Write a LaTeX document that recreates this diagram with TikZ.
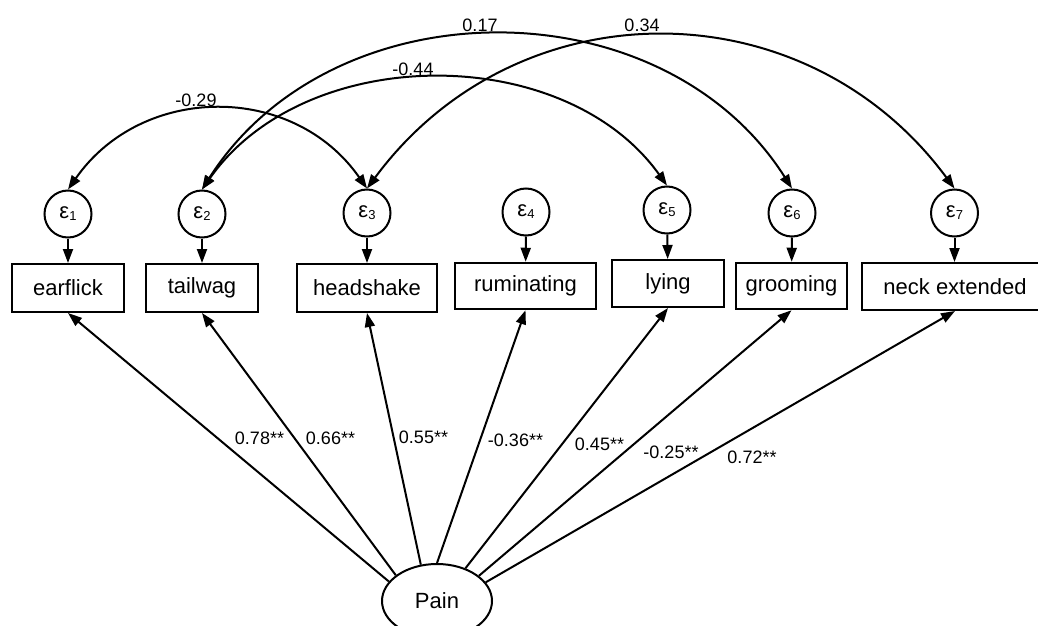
\documentclass[tikz,border=0pt]{standalone}
\usepackage{fontspec}
\setmainfont{Liberation Sans}
\usetikzlibrary{arrows.meta,shapes.geometric}
\newcommand\errlab[1]{ε\raisebox{-2pt}{\fontsize{13}{13}\selectfont #1}}
\begin{document}
\begin{tikzpicture}[x=1pt,y=-1pt, line width=2pt,
  >={Triangle[length=14pt,width=10pt]},
  obs/.style={draw, rectangle, inner sep=0pt, font=\fontsize{22}{22}\selectfont},
  err/.style={draw, circle, minimum size=47pt, inner sep=0pt, font=\fontsize{22}{22}\selectfont},
  lat/.style={draw, ellipse, minimum width=110pt, minimum height=74pt, inner sep=0pt, font=\fontsize{22}{22}\selectfont},
  coef/.style={font=\fontsize{18}{18}\selectfont, inner sep=0pt},
  load/.style={->}, cov/.style={<->}]
\clip (0,0) rectangle (1038,626);

% observed variables
\node[obs, minimum width=112pt, minimum height=48pt] (earflick) at (68,288) {earflick};
\node[obs, minimum width=112pt, minimum height=48pt] (tailwag) at (202,288) {tailwag};
\node[obs, minimum width=140pt, minimum height=48pt] (headshake) at (367,288) {headshake};
\node[obs, minimum width=141pt, minimum height=46.5pt] (ruminating) at (525.5,286) {ruminating};
\node[obs, minimum width=112pt, minimum height=47pt] (lying) at (668,283.5) {lying};
\node[obs, minimum width=111pt, minimum height=46.5pt] (grooming) at (791.5,286) {grooming};
\node[obs, minimum width=186pt, minimum height=47pt] (neck) at (955,286.5) {neck extended};

% error terms
\node[err] (e1) at (68,214) {\errlab{1}};
\node[err] (e2) at (202,214) {\errlab{2}};
\node[err] (e3) at (367,213) {\errlab{3}};
\node[err] (e4) at (526,212) {\errlab{4}};
\node[err] (e5) at (667,210) {\errlab{5}};
\node[err] (e6) at (792,213) {\errlab{6}};
\node[err] (e7) at (954.5,213) {\errlab{7}};

\draw[->] (e1) -- (earflick);
\draw[->] (e2) -- (tailwag);
\draw[->] (e3) -- (headshake);
\draw[->] (e4) -- (ruminating);
\draw[->] (e5) -- (lying);
\draw[->] (e6) -- (grooming);
\draw[->] (e7.south) -- (neck.north -| e7.south);

% latent
\node[lat] (pain) at (437,601) {Pain};

\draw[load] (pain.158) -- (earflick.south);
\draw[load] (pain.148) -- (tailwag.south);
\draw[load] (pain.114) -- (headshake.south);
\draw[load] (pain.90) -- (ruminating.south);
\draw[load] (pain.49) -- (lying.south);
\draw[load] (pain.31) -- (grooming.south);
\draw[load] (pain.21) -- (neck.south);

\node[coef] (l1) at (259.5,438) {0.78**};
\node[coef] (l2) at (330.5,438) {0.66**};
\node[coef] (l3) at (423.5,437) {0.55**};
\node[coef] (l4) at (515.5,440) {-0.36**};
\node[coef] (l5) at (599.5,444) {0.45**};
\node[coef] (l6) at (671,452) {-0.25**};
\node[coef] (l7) at (752,457) {0.72**};

% covariances
\draw[cov] (e1.north) .. controls +(74,-106) and +(-74,-106) .. (e3.north);
\draw[cov] (e2.north) .. controls +(103,-147) and +(-103,-144) .. (e5.north);
\draw[cov] (e2.north) .. controls +(130,-205) and +(-130,-205) .. (e6.north);
\draw[cov] (e3.north) .. controls +(150,-203) and +(-150,-203) .. (e7.north);

\node[coef] (c1) at (196,100) {-0.29};
\node[coef] (c2) at (413,69) {-0.44};
\node[coef] (c3) at (480,25) {0.17};
\node[coef] (c4) at (642,25) {0.34};
\end{tikzpicture}
\end{document}
